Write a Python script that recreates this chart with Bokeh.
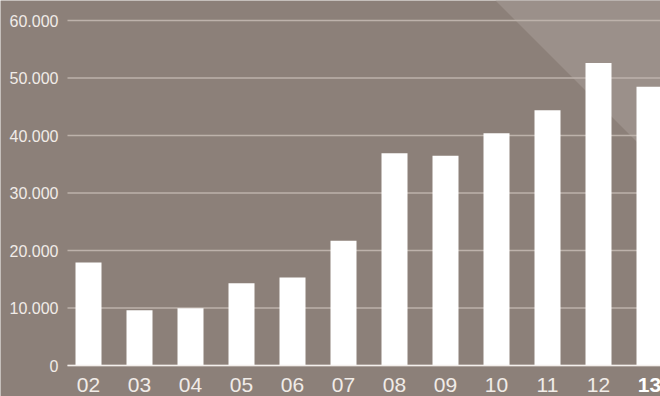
from bokeh.plotting import figure
from bokeh.models import ColumnDataSource, Range1d
from bokeh.core.properties import value
from bokeh.embed import file_html
from bokeh.resources import INLINE

years = ["02", "03", "04", "05", "06", "07", "08", "09", "10", "11", "12", "13"]
values = [17900, 9600, 9950, 14300, 15300, 21700, 36900, 36500, 40400, 44400, 52600, 48500]
y_ticks = [0, 10000, 20000, 30000, 40000, 50000, 60000]
y_tick_labels = ["0", "10.000", "20.000", "30.000", "40.000", "50.000", "60.000"]

BG = "#8c8079"
TRI = "#9b908a"
GRID = "#bdb2ab"
TXT = "#f1ece8"
FONT = value("Liberation Sans")

x = list(range(len(years)))
unit = 10000 / 57.5  # data units per pixel
xu = 1 / 51          # category units per pixel
y0, y1 = -31 * unit, 60000 + 20 * unit
xa, xb = -88 * xu, 572 * xu

p = figure(width=660, height=396, output_backend="svg", toolbar_location=None,
           x_range=Range1d(xa, xb), y_range=Range1d(y0, y1),
           min_border=0, background_fill_color=BG, border_fill_color=BG,
           outline_line_color=None)
p.axis.visible = False
p.grid.visible = False

# decorative lighter triangle (top right)
tx0 = xa + 495 * xu
p.patch([tx0, xb + 0.5, xb + 0.5], [y1, y1, y1 - (165 + 0.5 * 51) * unit],
        fill_color=TRI, line_color=None)

# grid lines
gx0 = xa + 67 * xu
p.segment(x0=[gx0] * len(y_ticks), x1=[xb] * len(y_ticks), y0=y_ticks, y1=y_ticks,
          line_color=GRID, line_width=1.5)

src = ColumnDataSource(dict(x=x, top=values, year=years))
p.vbar(x="x", top="top", bottom=0, width=26 * xu, source=src,
       fill_color="white", line_color=None)

# baseline
p.segment(x0=[gx0], x1=[xb], y0=[0], y1=[0], line_color="#f4f0ed", line_width=1.5)

# y labels
p.text(x=[xa + 58 * xu] * len(y_ticks), y=y_ticks, text=y_tick_labels,
       text_align="right", text_baseline="middle", text_font=FONT,
       text_font_size="16px", text_color=TXT)

# x labels
lab_y = -19.5 * unit
reg = dict(x=x[:-1], y=[lab_y] * (len(x) - 1), t=years[:-1])
p.text(x="x", y="y", text="t", source=ColumnDataSource(reg), text_align="center",
       text_baseline="middle", text_font=FONT, text_font_size="21px", text_color=TXT)
p.text(x=[x[-1]], y=[lab_y], text=[years[-1]], text_align="center",
       text_baseline="middle", text_font=FONT, text_font_size="21px",
       text_font_style="bold", text_color="white")

open("out.html", "w").write(file_html(p, INLINE))
